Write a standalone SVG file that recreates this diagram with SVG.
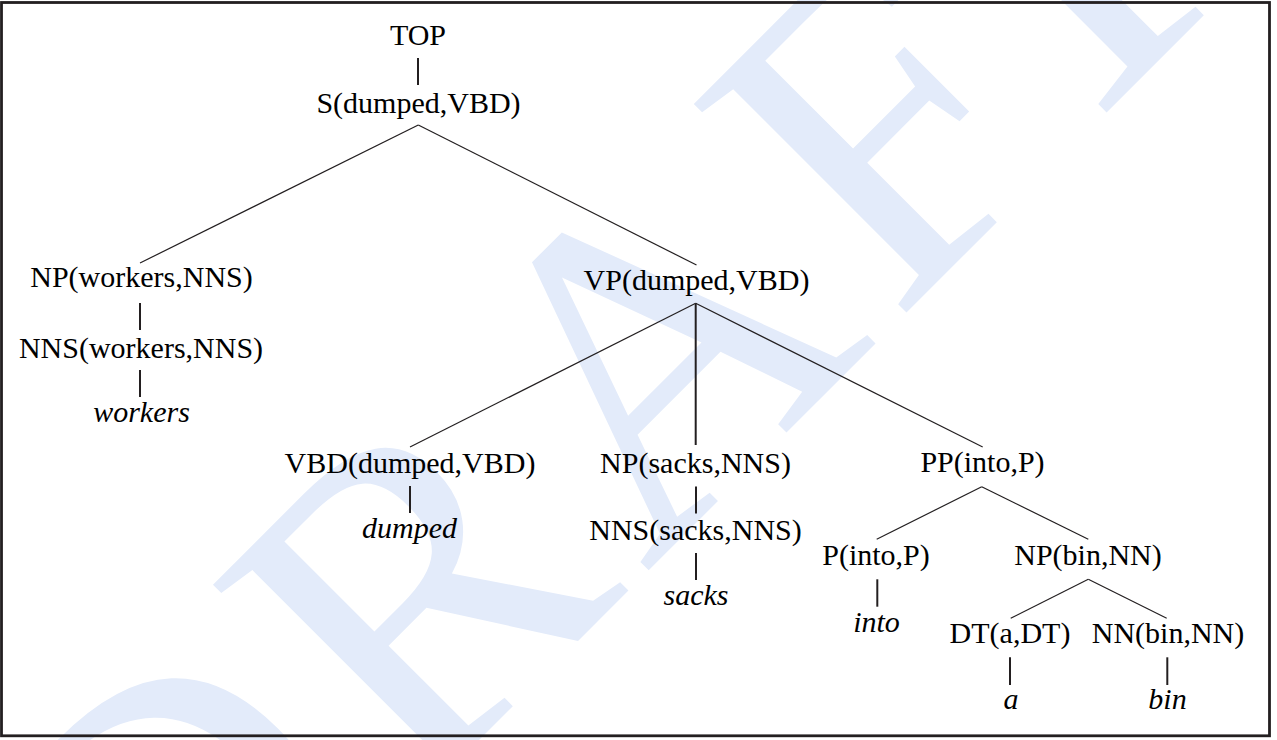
<svg xmlns="http://www.w3.org/2000/svg" width="1277" height="740" viewBox="0 0 1277 740" font-family="Liberation Serif">
  <rect x="0" y="0" width="1277" height="740" fill="#ffffff"/>
  <g id="watermark" transform="translate(609.5,609.5) rotate(-45)">
    <text x="-629 -276 51 404 633" y="0" font-size="455" font-family="Liberation Serif" fill="#e3ebfa">DRAFT</text>
  </g>
  <g id="connectors" stroke="#231f20" fill="none">
    <g stroke-width="1.2">
      <line x1="418.3" y1="125" x2="140" y2="263"/>
      <line x1="418.3" y1="125" x2="696.5" y2="265"/>
      <line x1="695.7" y1="303.3" x2="410" y2="447"/>
      <line x1="695.7" y1="303.3" x2="982.7" y2="447"/>
      <line x1="981.7" y1="486.7" x2="876.7" y2="539.3"/>
      <line x1="981.7" y1="486.7" x2="1088.3" y2="539.3"/>
      <line x1="1088.3" y1="579.3" x2="1010.7" y2="618.3"/>
      <line x1="1088.3" y1="579.3" x2="1166.7" y2="618.3"/>
    </g>
    <g stroke-width="2">
      <line x1="418" y1="58" x2="418" y2="85"/>
      <line x1="140" y1="303" x2="140" y2="330"/>
      <line x1="140" y1="370" x2="140" y2="397"/>
      <line x1="695.7" y1="303.3" x2="695.7" y2="445"/>
      <line x1="410" y1="486" x2="410" y2="513"/>
      <line x1="696" y1="486.5" x2="696" y2="513.5"/>
      <line x1="696" y1="553" x2="696" y2="580"/>
      <line x1="877.3" y1="579.3" x2="877.3" y2="606.7"/>
      <line x1="1010" y1="657.3" x2="1010" y2="685"/>
      <line x1="1167.3" y1="657.3" x2="1167.3" y2="685"/>
    </g>
  </g>
  <g id="n-top"><text x="418" y="45" font-size="30" font-family="Liberation Serif" text-anchor="middle">TOP</text></g>
  <g id="n-s"><text x="418.5" y="113.3" font-size="30" font-family="Liberation Serif" text-anchor="middle">S(dumped,VBD)</text></g>
  <g id="n-np-workers"><text x="141.5" y="286.5" font-size="30" font-family="Liberation Serif" text-anchor="middle">NP(workers,NNS)</text></g>
  <g id="n-vp"><text x="696.5" y="290" font-size="30" font-family="Liberation Serif" text-anchor="middle">VP(dumped,VBD)</text></g>
  <g id="n-nns-workers"><text x="141" y="357.5" font-size="30" font-family="Liberation Serif" text-anchor="middle">NNS(workers,NNS)</text></g>
  <g id="n-workers"><text x="141.5" y="422" font-size="30" font-family="Liberation Serif" font-style="italic" text-anchor="middle">workers</text></g>
  <g id="n-vbd"><text x="410" y="473" font-size="30" font-family="Liberation Serif" text-anchor="middle">VBD(dumped,VBD)</text></g>
  <g id="n-np-sacks"><text x="695.5" y="473" font-size="30" font-family="Liberation Serif" text-anchor="middle">NP(sacks,NNS)</text></g>
  <g id="n-pp"><text x="982.5" y="472" font-size="30" font-family="Liberation Serif" text-anchor="middle">PP(into,P)</text></g>
  <g id="n-dumped"><text x="409.5" y="538" font-size="30" font-family="Liberation Serif" font-style="italic" text-anchor="middle">dumped</text></g>
  <g id="n-nns-sacks"><text x="695.5" y="539.5" font-size="30" font-family="Liberation Serif" text-anchor="middle">NNS(sacks,NNS)</text></g>
  <g id="n-p"><text x="876" y="565" font-size="30" font-family="Liberation Serif" text-anchor="middle">P(into,P)</text></g>
  <g id="n-np-bin"><text x="1088" y="565" font-size="30" font-family="Liberation Serif" text-anchor="middle">NP(bin,NN)</text></g>
  <g id="n-sacks"><text x="696" y="605" font-size="30" font-family="Liberation Serif" font-style="italic" text-anchor="middle">sacks</text></g>
  <g id="n-into"><text x="876.5" y="631.5" font-size="30" font-family="Liberation Serif" font-style="italic" text-anchor="middle">into</text></g>
  <g id="n-dt"><text x="1010" y="643" font-size="30" font-family="Liberation Serif" text-anchor="middle">DT(a,DT)</text></g>
  <g id="n-nn"><text x="1168" y="643" font-size="30" font-family="Liberation Serif" text-anchor="middle">NN(bin,NN)</text></g>
  <g id="n-a"><text x="1011" y="709" font-size="30" font-family="Liberation Serif" font-style="italic" text-anchor="middle">a</text></g>
  <g id="n-bin"><text x="1167.5" y="709" font-size="30" font-family="Liberation Serif" font-style="italic" text-anchor="middle">bin</text></g>
  <rect id="frame" x="1.5" y="2.5" width="1268" height="733.3" fill="none" stroke="#231f20" stroke-width="2.8"/>
</svg>
